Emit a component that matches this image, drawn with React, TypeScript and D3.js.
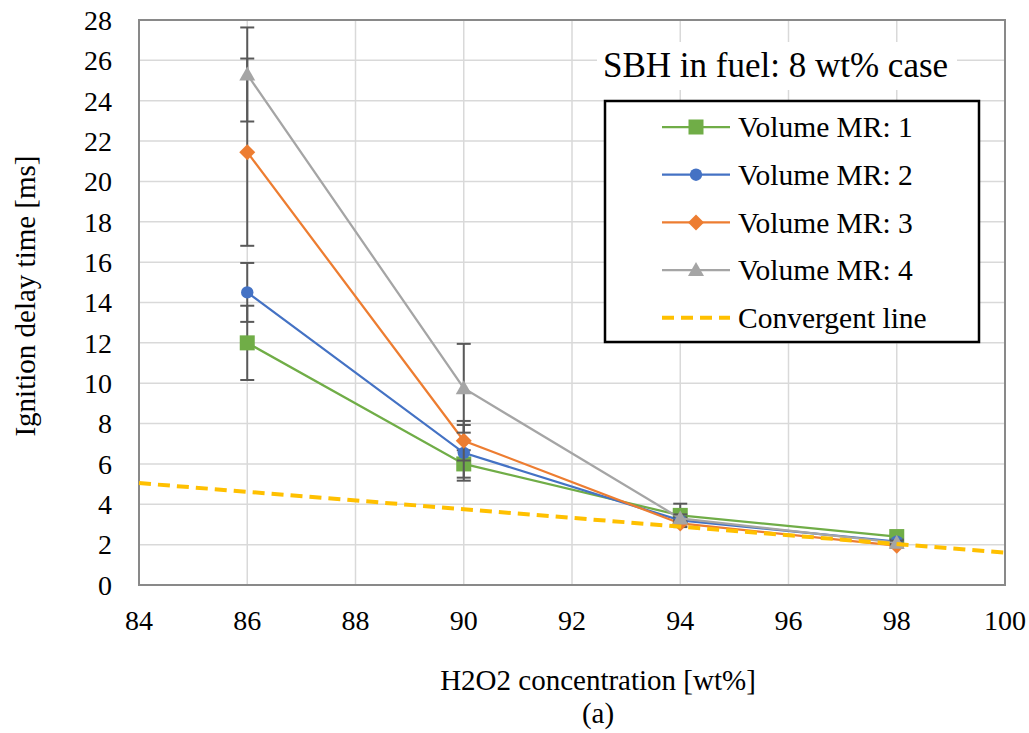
import React from "react";
import * as d3 from "d3";

const xValues = [86, 90, 94, 98];
const mr1 = [12.0, 6.0, 3.45, 2.4];
const mr2 = [14.5, 6.55, 3.2, 2.15];
const mr3 = [21.45, 7.15, 3.05, 1.95];
const mr4 = [25.3, 9.75, 3.3, 2.1];
const err1 = [1.84, 0.68, 0.58, 0.1];
const err2 = [1.46, 1.38, 0.15, 0.1];
const err3 = [4.64, 0.98, 0.15, 0.1];
const err4 = [2.33, 2.2, 0.2, 0.1];
const convergentX = [84, 100];
const convergentY = [5.05, 1.6];
const xTicks = [84, 86, 88, 90, 92, 94, 96, 98, 100];
const yTicks = [0, 2, 4, 6, 8, 10, 12, 14, 16, 18, 20, 22, 24, 26, 28];
const seriesNames = ["Volume MR: 1", "Volume MR: 2", "Volume MR: 3", "Volume MR: 4"];
const seriesColors = ["#70ad47", "#4472c4", "#ed7d31", "#a5a5a5"];
const seriesShapes = ["square", "circle", "diamond", "triangle"];

const W = 1029;
const H = 733;
const L = 139, R = 1005, T = 20, B = 585;
const FONT = '"Liberation Serif", "Times New Roman", Times, "DejaVu Serif", serif';

function Marker({ shape, x, y, color }: { shape: string; x: number; y: number; color: string }) {
  if (shape === "square") return <rect x={x - 7.5} y={y - 7.5} width={15} height={15} fill={color} />;
  if (shape === "circle") return <circle cx={x} cy={y} r={6.2} fill={color} />;
  if (shape === "diamond")
    return <path d={`M${x},${y - 8}L${x + 8},${y}L${x},${y + 8}L${x - 8},${y}Z`} fill={color} />;
  return <path d={`M${x},${y - 8}L${x + 8},${y + 6}L${x - 8},${y + 6}Z`} fill={color} />;
}

export default function App() {
  const x = d3.scaleLinear().domain([84, 100]).range([L, R]);
  const y = d3.scaleLinear().domain([0, 28]).range([B, T]);
  const series = [mr1, mr2, mr3, mr4];
  const errs = [err1, err2, err3, err4];
  const line = d3
    .line<[number, number]>()
    .x((d) => x(d[0]))
    .y((d) => y(d[1]));

  const legendX = 605, legendY = 101, legendW = 374, legendH = 241;
  const itemY = (i: number) => 127 + i * 47.7;
  const ts = { fontFamily: FONT };

  return (
    <div style={{ position: "absolute", left: 0, top: 0 }}>
      <svg width={W} height={H} style={{ display: "block", background: "#fff", fontFamily: FONT }}>
        <rect width={W} height={H} fill="#fff" />
        {yTicks.map((t) => (
          <line key={"gy" + t} x1={L} x2={R} y1={y(t)} y2={y(t)} stroke="#d9d9d9" strokeWidth={1.5} />
        ))}
        {xTicks.map((t) => (
          <line key={"gx" + t} x1={x(t)} x2={x(t)} y1={T} y2={B} stroke="#d9d9d9" strokeWidth={1.5} />
        ))}
        <rect x={L} y={T} width={R - L} height={B - T} fill="none" stroke="#898989" strokeWidth={2} />

        <rect x={597} y={42} width={360} height={48} fill="#fff" />
        <text x={603} y={77} fontSize={35} fill="#000" style={ts}>SBH in fuel: 8 wt% case</text>

        {series.map((s, i) => (
          <g key={"s" + i}>
            <path
              d={line(xValues.map((xv, j) => [xv, s[j]] as [number, number])) || ""}
              fill="none"
              stroke={seriesColors[i]}
              strokeWidth={2.25}
            />
            {xValues.map((xv, j) => {
              const e = errs[i][j];
              const cx = x(xv);
              return (
                <g key={"e" + j} stroke="#595959" strokeWidth={2}>
                  <line x1={cx} x2={cx} y1={y(s[j] - e)} y2={y(s[j] + e)} />
                  <line x1={cx - 7} x2={cx + 7} y1={y(s[j] - e)} y2={y(s[j] - e)} />
                  <line x1={cx - 7} x2={cx + 7} y1={y(s[j] + e)} y2={y(s[j] + e)} />
                </g>
              );
            })}
            {xValues.map((xv, j) => (
              <Marker key={"m" + j} shape={seriesShapes[i]} x={x(xv)} y={y(s[j])} color={seriesColors[i]} />
            ))}
          </g>
        ))}
        <path
          d={line(convergentX.map((xv, j) => [xv, convergentY[j]] as [number, number])) || ""}
          fill="none"
          stroke="#ffc000"
          strokeWidth={4}
          strokeDasharray="12,7"
        />

        {yTicks.map((t) => (
          <text key={"ty" + t} x={112} y={y(t)} dy="0.35em" textAnchor="end" fontSize={28} fill="#000" style={ts}>
            {t}
          </text>
        ))}
        {xTicks.map((t) => (
          <text key={"tx" + t} x={x(t)} y={630} textAnchor="middle" fontSize={28} fill="#000" style={ts}>
            {t}
          </text>
        ))}
        <text x={598} y={690} textAnchor="middle" fontSize={29} fill="#000" style={ts}>H2O2 concentration [wt%]</text>
        <text x={598} y={723} textAnchor="middle" fontSize={29} fill="#000" style={ts}>(a)</text>
        <text
          transform={`translate(25,296) rotate(-90)`}
          textAnchor="middle"
          dy="0.35em"
          fontSize={29}
          fill="#000"
          style={ts}
        >
          Ignition delay time [ms]
        </text>

        <rect x={legendX} y={legendY} width={legendW} height={legendH} fill="#fff" stroke="#000" strokeWidth={2.5} />
        {seriesNames.map((n, i) => (
          <g key={"l" + i}>
            <line x1={662} x2={730} y1={itemY(i)} y2={itemY(i)} stroke={seriesColors[i]} strokeWidth={2.25} />
            <Marker shape={seriesShapes[i]} x={696} y={itemY(i)} color={seriesColors[i]} />
            <text x={738} y={itemY(i)} dy="0.35em" fontSize={29.5} fill="#000" style={ts}>{n}</text>
          </g>
        ))}
        <line x1={662} x2={730} y1={itemY(4)} y2={itemY(4)} stroke="#ffc000" strokeWidth={4} strokeDasharray="12,7" />
        <text x={738} y={itemY(4)} dy="0.35em" fontSize={29.5} fill="#000" style={ts}>Convergent line</text>
      </svg>
    </div>
  );
}
